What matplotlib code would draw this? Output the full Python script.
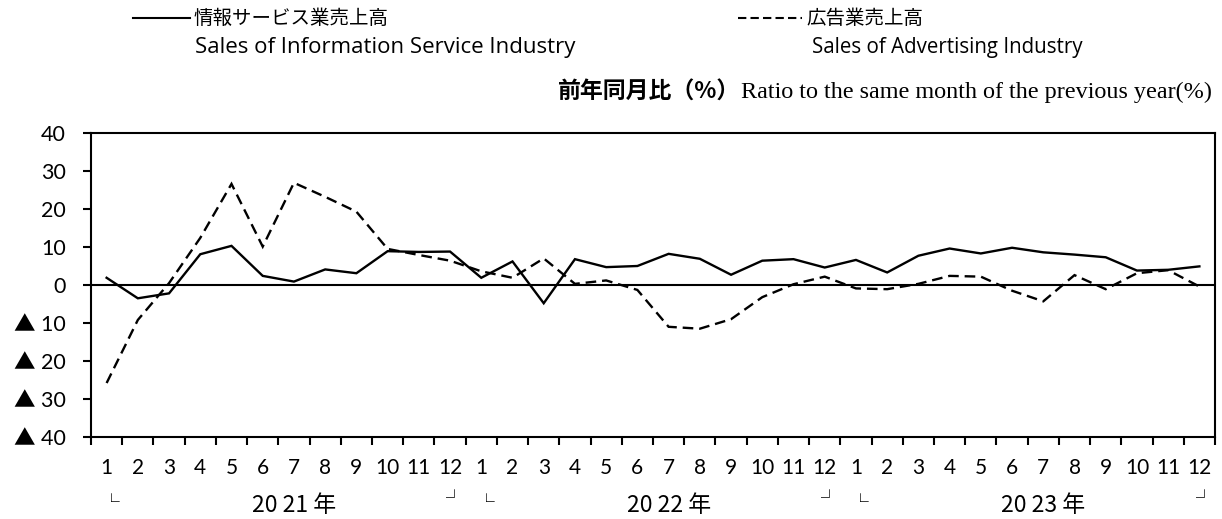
import matplotlib
matplotlib.use("Agg")
import matplotlib.pyplot as plt
from matplotlib.lines import Line2D
import matplotlib.transforms as mtransforms
import numpy as np

# ---- data ----
months = [str(m) for m in range(1, 13)] * 3
years = ["20 21 年", "20 22 年", "20 23 年"]
info_service = [1.9, -3.5, -2.2, 8.1, 10.3, 2.4, 0.9, 4.1, 3.1, 8.9, 8.7, 8.8,
                1.9, 6.2, -4.8, 6.8, 4.7, 5.0, 8.2, 6.9, 2.7, 6.4, 6.8, 4.6,
                6.6, 3.3, 7.7, 9.6, 8.3, 9.8, 8.6, 8.0, 7.3, 3.8, 4.0, 4.9]
advertising = [-25.8, -9.2, 0.5, 12.4, 26.6, 10.1, 26.9, 23.2, 19.3, 9.5, 7.9, 6.4,
               3.6, 1.9, 7.0, 0.3, 1.2, -1.3, -11.0, -11.5, -9.0, -3.2, 0.2, 2.2,
               -0.9, -1.1, 0.3, 2.4, 2.2, -1.5, -4.3, 2.6, -1.1, 3.1, 3.9, -0.4]
yticks = [40, 30, 20, 10, 0, -10, -20, -30, -40]
ytick_labels = ["40", "30", "20", "10", "0", "▲ 10", "▲ 20", "▲ 30", "▲ 40"]
legend_jp = ["情報サービス業売上高", "広告業売上高"]
legend_en = ["Sales of Information Service Industry", "Sales of Advertising Industry"]
ylabel_jp = "前年同月比（%）"
ylabel_en = "Ratio to the same month of the previous year(%)"

SANS = ["Lato", "Noto Sans CJK JP", "DejaVu Sans"]
LEG = ["Open Sans", "DejaVu Sans"]
JP = ["Noto Sans CJK JP", "DejaVu Sans"]
SERIF = ["Liberation Serif", "DejaVu Serif"]

W, H = 1222, 519
fig = plt.figure(figsize=(W / 100, H / 100), dpi=100)
ax = fig.add_axes([91 / W, 1 - 437 / H, (1215 - 91) / W, (437 - 133) / H])

x = np.arange(len(info_service))
ax.plot(x, info_service, color="black", lw=1.7, solid_joinstyle="miter")
ax.plot(x, advertising, color="black", lw=1.7, linestyle=(0, (4.5, 2.5)),
        dash_joinstyle="miter")

ax.axhline(0, color="black", lw=1.5)

ax.set_xlim(-0.5, len(x) - 0.5)
ax.set_ylim(-40, 40)
for s in ax.spines.values():
    s.set_linewidth(1.5)

ax.set_yticks(yticks)
ax.set_yticklabels(ytick_labels, family=SANS, fontsize=15.5)
ax.tick_params(axis="y", direction="out", length=6, width=1.5, pad=12)

ax.set_xticks(np.arange(-0.5, len(x), 1.0))
ax.set_xticklabels([])
ax.tick_params(axis="x", which="major", direction="out", length=6, width=1.5)
ax.set_xticks(x, minor=True)
ax.set_xticklabels(months, minor=True, family=SANS, fontsize=15)
ax.tick_params(axis="x", which="minor", length=0, pad=15)

# year labels and bracket marks
trans = mtransforms.blended_transform_factory(ax.transData, fig.transFigure)
for k, yl in enumerate(years):
    ax.text(k * 12 + 6, 1 - 506 / H, yl, transform=trans, ha="center", va="center",
            family=JP, fontsize=16.5)
    ax.text(k * 12 + 0.15, 1 - 503 / H, "└", transform=trans, ha="center", va="center",
            family=JP, fontsize=12)
    ax.text(k * 12 + 11.15, 1 - 500 / H, "┘", transform=trans, ha="center", va="center",
            family=JP, fontsize=12)

# axis annotation
fig.text(558 / W, 1 - 92 / H, ylabel_jp, ha="left", va="center", family=JP,
         fontsize=16.5, fontweight="bold")
fig.text(1212 / W, 1 - 92 / H, ylabel_en, ha="right", va="center", family=SERIF,
         fontsize=17.4)

# legend
fig.add_artist(Line2D([133 / W, 190 / W], [1 - 18 / H, 1 - 18 / H], color="black",
                      lw=1.5, transform=fig.transFigure))
fig.text(194 / W, 1 - 18 / H, legend_jp[0], ha="left", va="center", family=JP, fontsize=14)
fig.text(195 / W, 1 - 47 / H, legend_en[0], ha="left", va="center", family=LEG, fontsize=16)
fig.add_artist(Line2D([738 / W, 802 / W], [1 - 18 / H, 1 - 18 / H], color="black",
                      lw=1.5, linestyle=(0, (4, 2)), transform=fig.transFigure))
fig.text(806 / W, 1 - 18 / H, legend_jp[1], ha="left", va="center", family=JP, fontsize=14)
fig.text(812 / W, 1 - 47 / H, legend_en[1], ha="left", va="center", family=LEG, fontsize=14.8)

fig.savefig("out.png", dpi=100)
